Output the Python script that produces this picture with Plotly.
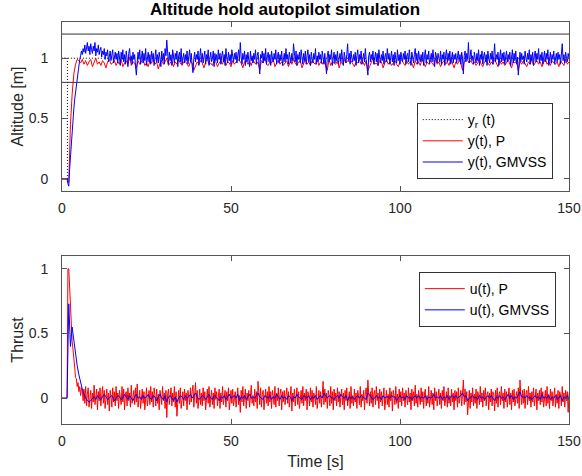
import plotly.graph_objects as go
from plotly.subplots import make_subplots

# ---------------- data ----------------
# reference step
yr_time = [1.6, 1.6, 0.0, 150.0]
yr_value = [0.0, 1.0, 1.0, 1.0]

# altitude bounds
alt_upper = 1.2
alt_lower = 0.8

# sample grids: first sample at t=0, then regular samples from t=1.5 s
t_first = 0.0
t_start = 1.5
step_fine = 0.25
step_coarse = 0.5

# altitude, P controller (0.5 s samples)
y_p = [0.00,
 0.00, -0.03, 0.45, 0.70, 0.87, 0.95, 0.99, 0.98, 0.96, 0.99,
 0.95, 0.98, 0.94, 0.97, 0.99, 0.93, 0.96, 1.00, 0.95, 0.97, 0.94, 0.98, 0.96, 0.92, 0.97, 0.99, 0.95, 0.96, 0.98, 0.94,
 0.97, 0.95, 0.99, 0.93, 0.96, 0.98, 0.95, 1.01, 0.94, 0.97, 0.96, 0.92, 0.98, 0.95, 0.97, 0.99, 0.94, 0.96, 0.93, 0.98,
 0.96, 0.99, 0.95, 0.97, 0.91, 0.96, 0.98, 0.95, 0.97, 1.00, 0.94, 0.96, 0.98, 0.93, 0.97, 0.95, 0.99, 0.96, 0.94, 0.97,
 0.98, 0.95, 0.93, 0.97, 0.96, 0.90, 0.94, 0.97, 0.95, 0.98, 0.96, 0.92, 0.97, 0.99, 0.95, 0.96, 0.94, 0.98, 0.97, 0.93,
 0.96, 0.98, 0.95, 1.00, 0.94, 0.97, 0.96, 0.93, 0.98, 0.95, 0.97, 0.99, 0.98, 0.96, 0.92, 0.97, 0.98, 0.95, 0.97, 0.94,
 0.99, 0.96, 0.95, 0.97, 0.90, 0.98, 0.96, 1.01, 0.95, 0.94, 0.97, 0.96, 0.99, 0.93, 0.96, 0.98, 0.95, 0.97, 0.94, 0.96,
 0.98, 0.93, 0.97, 0.95, 0.99, 0.96, 0.94, 0.97, 0.98, 0.92, 0.96, 0.99, 0.95, 0.97, 0.94, 0.98, 0.96, 0.95, 1.00, 0.94,
 0.97, 0.95, 0.98, 0.93, 0.90, 0.99, 0.94, 0.97, 0.96, 0.95, 0.98, 0.92, 0.97, 0.95, 0.99, 0.96, 0.98, 0.97, 0.98, 0.95,
 0.93, 0.97, 0.96, 0.99, 0.95, 0.97, 0.94, 0.98, 0.90, 0.93, 0.97, 1.00, 0.95, 0.96, 0.94, 0.98, 0.97, 0.92, 0.96, 0.99,
 0.95, 0.97, 0.94, 0.96, 0.98, 0.95, 0.93, 0.97, 0.99, 0.96, 0.94, 0.98, 0.95, 0.97, 0.96, 0.92, 0.98, 0.95, 0.97, 0.94,
 0.99, 0.96, 0.93, 0.97, 0.95, 0.98, 0.96, 0.94, 1.00, 0.95, 0.97, 0.93, 0.96, 0.98, 0.95, 0.97, 0.94, 0.99, 0.96, 0.92,
 0.97, 0.95, 0.98, 0.96, 0.90, 0.97, 0.99, 0.98, 0.96, 0.98, 0.95, 0.97, 0.94, 0.96, 1.00, 0.95, 0.93, 0.97, 0.98, 0.96,
 0.94, 0.97, 0.95, 0.99, 0.96, 0.93, 0.98, 0.95, 0.97, 0.94, 0.96, 0.99, 0.95, 0.92, 0.97, 0.96, 0.98, 0.90, 0.97, 0.95,
 0.98, 0.96, 0.93, 0.97, 0.95, 0.99, 0.94, 0.96, 0.98, 0.95, 0.97, 0.93, 0.96, 1.00, 0.95, 0.97, 0.94, 0.98, 0.96, 0.95,
 0.97, 0.93, 0.98, 0.96, 0.94, 0.99, 0.95, 0.97, 0.96, 0.94]

# altitude, GMVSS controller (0.25 s samples)
y_gmvss = [0.00,
 0.00, -0.04, -0.06, 0.08, 0.20, 0.30, 0.40, 0.50, 0.58, 0.66, 0.72, 0.79, 0.85, 0.90, 0.95, 0.99, 1.02, 1.06, 1.03, 1.08,
 1.05, 1.11, 1.04, 1.09, 1.13, 1.06, 1.10, 1.03, 1.12, 1.07, 1.04, 1.10, 1.06, 1.13, 1.02, 1.08, 1.05, 1.11, 1.03, 1.07,
 1.09, 1.01, 1.06, 1.03, 1.08, 0.99, 1.05, 1.02, 1.07, 0.97, 1.04, 1.06, 0.98, 1.03, 1.07, 0.96, 1.02, 1.05, 0.99, 1.04,
 0.96, 1.06, 1.01, 0.94, 1.05, 0.99, 1.07, 0.97, 1.03, 0.95, 1.06, 1.00, 0.93, 1.04, 1.08, 0.98, 1.02, 0.95, 1.05, 0.99,
 1.03, 0.93, 0.86, 0.97, 1.05, 0.99, 1.07, 0.95, 1.02, 1.06, 0.96, 1.04, 0.98, 1.08, 0.94, 1.01, 1.05, 0.97, 1.03, 0.95,
 1.06, 0.99, 1.04, 0.94, 1.02, 1.07, 0.97, 1.03, 0.96, 1.05, 1.00, 0.93, 1.06, 0.98, 1.04, 0.95, 1.08, 1.02, 1.15, 0.99,
 0.95, 1.05, 0.98, 1.03, 0.94, 1.07, 1.00, 0.96, 1.04, 0.99, 1.06, 0.93, 1.02, 1.05, 0.97, 1.08, 0.95, 1.01, 1.04, 0.96,
 1.03, 0.98, 1.06, 0.95, 1.02, 1.07, 0.97, 1.04, 0.94, 0.88, 1.00, 1.05, 0.97, 1.03, 0.99, 1.06, 0.94, 1.02, 1.08, 0.97,
 1.04, 0.96, 1.01, 1.06, 0.95, 1.03, 0.99, 1.07, 0.94, 1.02, 1.05, 0.97, 1.00, 1.06, 0.93, 1.04, 0.98, 1.03, 0.96, 1.07,
 0.99, 1.04, 0.95, 1.02, 1.06, 0.97, 1.03, 0.94, 1.08, 1.00, 0.96, 1.05, 0.98, 1.03, 0.95, 1.07, 1.01, 0.97, 1.04, 0.99,
 1.05, 0.96, 1.02, 1.07, 0.98, 1.13, 1.01, 0.95, 1.04, 0.99, 1.06, 0.94, 1.03, 0.97, 1.05, 1.00, 0.93, 1.06, 0.98, 1.02,
 0.96, 1.04, 0.99, 1.07, 0.95, 1.02, 1.05, 0.97, 0.87, 1.03, 1.00, 1.06, 0.96, 1.04, 0.98, 1.08, 0.95, 1.01, 1.05, 0.97,
 1.03, 0.94, 1.06, 1.00, 0.97, 1.04, 0.99, 1.07, 0.95, 1.02, 1.05, 0.96, 1.03, 0.98, 1.06, 0.94, 1.01, 1.04, 0.97, 1.08,
 0.99, 1.03, 0.95, 1.05, 1.00, 0.96, 1.04, 0.98, 1.12, 1.02, 0.97, 1.06, 0.94, 1.03, 0.99, 1.05, 0.96, 1.07, 1.01, 0.95,
 1.04, 0.98, 1.06, 0.95, 1.02, 1.07, 0.97, 1.03, 0.94, 1.05, 1.00, 0.96, 1.04, 0.99, 1.08, 0.95, 1.02, 0.97, 1.05, 0.99,
 1.03, 0.96, 1.06, 1.00, 0.95, 1.04, 0.98, 0.87, 1.02, 1.06, 0.97, 1.03, 0.99, 1.07, 0.94, 1.01, 1.05, 0.96, 1.03, 0.98,
 1.06, 0.95, 1.02, 1.04, 0.97, 1.07, 0.99, 0.94, 1.05, 1.01, 0.96, 1.03, 1.12, 0.98, 1.04, 0.95, 1.06, 1.00, 0.97, 1.03,
 0.98, 1.05, 0.94, 1.02, 1.07, 0.96, 1.03, 0.99, 1.06, 0.95, 1.01, 1.04, 0.97, 1.08, 0.99, 0.93, 0.86, 1.02, 1.05, 0.97,
 1.03, 0.99, 1.06, 0.95, 1.02, 1.05, 0.97, 1.04, 0.94, 1.07, 1.00, 0.96, 1.03, 0.98, 1.06, 0.95, 1.01, 1.04, 0.97, 1.08,
 0.99, 1.04, 0.95, 1.02, 1.06, 0.97, 1.03, 0.94, 1.05, 1.00, 0.96, 1.07, 0.98, 1.03, 0.95, 1.05, 1.01, 0.97, 1.04, 0.99,
 1.06, 0.95, 1.02, 1.04, 0.97, 1.07, 0.99, 0.94, 1.05, 1.01, 0.96, 1.03, 1.08, 0.98, 1.04, 0.95, 1.06, 1.00, 0.97, 1.03,
 0.98, 1.05, 0.94, 1.02, 1.07, 0.96, 1.03, 0.99, 1.06, 0.95, 1.01, 1.04, 0.97, 1.07, 0.99, 0.93, 1.05, 1.02, 0.96, 1.04,
 1.00, 0.97, 1.06, 0.95, 1.03, 0.99, 1.05, 0.94, 1.02, 1.07, 0.97, 1.04, 0.98, 1.06, 0.95, 1.01, 1.05, 0.96, 1.03, 0.99,
 1.04, 0.96, 1.02, 1.06, 0.98, 1.03, 0.95, 1.05, 1.00, 0.87, 1.02, 1.06, 0.97, 1.04, 0.99, 1.13, 0.96, 1.03, 1.07, 0.98,
 1.02, 0.95, 1.05, 1.00, 0.96, 1.04, 0.98, 1.07, 0.94, 1.03, 0.99, 1.06, 0.95, 1.02, 1.05, 0.97, 1.03, 0.94, 1.06, 1.00,
 0.96, 1.04, 0.99, 1.06, 0.95, 1.02, 1.12, 0.97, 1.03, 0.99, 1.05, 0.94, 1.02, 1.07, 0.97, 1.04, 0.98, 1.05, 0.95, 1.01,
 1.06, 0.97, 1.03, 0.99, 1.05, 0.94, 1.02, 1.07, 0.96, 1.04, 0.98, 1.06, 0.95, 1.01, 0.86, 1.03, 1.05, 0.97, 1.04, 0.99,
 1.02, 0.95, 1.06, 1.00, 0.97, 1.04, 0.99, 1.07, 0.95, 1.03, 0.98, 1.05, 0.94, 1.02, 1.06, 0.97, 1.04, 0.99, 1.08, 0.96,
 1.03, 0.98, 1.05, 0.95, 1.02, 1.06, 0.97, 1.04, 0.99, 1.07, 0.94, 1.02, 1.05, 0.96, 1.03, 0.99, 1.06, 0.95, 1.01, 1.04,
 0.97, 1.05, 0.99, 1.03, 0.95, 1.06, 1.12, 0.98, 1.03, 0.96, 1.05, 1.00, 0.97, 1.04, 0.99, 0.96, 1.03, 1.00, 0.97, 1.02]

# thrust, P controller (0.25 s samples)
u_p = [0.00,
 0.00, 1.00, 1.00, 0.86, 0.70, 0.60, 0.44, 0.38, 0.27, 0.24, 0.16, 0.15, 0.09, 0.12, 0.05, 0.09, 0.02, 0.08, 0.06, -0.02,
 0.07, -0.04, 0.09, -0.06, 0.03, 0.08, -0.07, 0.02, 0.06, -0.08, 0.04, -0.03, 0.10, -0.05, 0.01, 0.07, -0.09, 0.05, -0.02, 0.08,
 -0.06, 0.03, 0.09, -0.04, 0.06, -0.08, 0.02, 0.07, -0.05, 0.04, -0.10, 0.06, 0.01, -0.07, 0.08, -0.03, 0.05, -0.06, 0.09, -0.02,
 0.04, -0.08, 0.06, 0.02, -0.05, 0.09, -0.03, 0.07, -0.09, 0.03, 0.05, -0.06, 0.08, -0.02, 0.04, -0.07, 0.10, -0.04, 0.02, 0.06,
 -0.05, 0.08, -0.03, 0.11, -0.07, 0.04, 0.06, -0.08, 0.02, 0.07, -0.04, 0.05, -0.09, 0.03, 0.08, -0.06, 0.01, 0.06, -0.05, 0.09,
 -0.03, 0.05, -0.07, 0.08, 0.02, -0.06, 0.07, -0.04, 0.03, -0.09, 0.06, 0.01, -0.05, 0.09, -0.02, 0.04, -0.08, 0.06, -0.15, 0.03,
 0.07, -0.05, 0.02, 0.08, -0.06, 0.04, -0.03, 0.09, -0.07, 0.05, -0.14, 0.03, 0.06, -0.04, 0.08, -0.08, 0.02, 0.05, -0.06, 0.07,
 -0.02, 0.04, -0.09, 0.06, 0.01, -0.05, 0.08, -0.03, 0.05, 0.10, -0.07, 0.03, 0.12, -0.04, 0.06, -0.08, 0.02, 0.07, -0.05, 0.04,
 -0.06, 0.08, -0.02, 0.05, -0.09, 0.03, 0.07, -0.04, 0.09, -0.07, 0.02, 0.06, -0.05, 0.04, -0.08, 0.08, -0.01, 0.05, -0.06, 0.03,
 0.07, -0.08, 0.04, -0.03, 0.09, -0.05, 0.02, 0.06, -0.07, 0.05, -0.02, 0.08, -0.09, 0.03, 0.06, -0.04, 0.07, -0.06, 0.01, 0.05,
 -0.07, 0.04, 0.08, -0.05, 0.02, -0.11, 0.06, -0.03, 0.09, -0.06, 0.03, 0.07, -0.08, 0.04, -0.02, 0.06, -0.07, 0.05, 0.10, -0.04,
 0.02, -0.06, 0.07, -0.03, 0.05, -0.08, 0.13, 0.04, -0.05, 0.08, -0.07, 0.03, 0.06, -0.09, 0.02, 0.07, -0.04, 0.05, -0.06, 0.09,
 -0.03, 0.05, -0.08, 0.06, 0.02, -0.05, 0.09, -0.07, 0.04, -0.02, 0.08, -0.06, 0.03, 0.07, -0.09, 0.05, -0.03, 0.06, -0.05, 0.02,
 0.08, -0.04, 0.05, -0.07, 0.03, 0.09, -0.10, 0.04, -0.03, 0.07, -0.06, 0.02, 0.08, -0.05, 0.05, -0.08, 0.03, 0.06, -0.04, 0.09,
 -0.06, 0.04, -0.02, 0.07, -0.09, 0.05, 0.02, -0.06, 0.08, -0.03, 0.06, -0.07, 0.04, 0.01, -0.05, 0.09, -0.08, 0.03, 0.06, -0.04,
 0.05, -0.07, 0.03, 0.13, -0.05, 0.07, -0.03, 0.04, -0.08, 0.06, 0.02, -0.06, 0.09, -0.04, 0.05, -0.09, 0.07, -0.02, 0.04, -0.06,
 0.08, -0.03, 0.05, -0.07, 0.02, 0.07, -0.05, 0.04, -0.09, 0.06, -0.02, 0.08, -0.06, 0.03, 0.05, -0.08, 0.09, -0.04, 0.02, -0.06,
 0.07, -0.03, 0.04, -0.08, 0.06, 0.02, -0.05, 0.09, -0.07, 0.03, -0.02, 0.06, -0.09, 0.05, 0.08, -0.04, 0.14, 0.03, -0.06, 0.05,
 -0.04, 0.08, -0.07, 0.03, 0.06, -0.05, 0.09, -0.02, 0.04, -0.08, 0.07, -0.03, 0.05, -0.06, 0.02, 0.08, -0.09, 0.04, 0.06, -0.05,
 0.03, -0.07, 0.08, -0.02, 0.05, -0.10, 0.06, 0.02, -0.05, 0.09, -0.04, 0.03, -0.08, 0.07, -0.03, 0.05, -0.06, 0.08, -0.02, 0.04,
 -0.07, 0.06, 0.02, -0.05, 0.08, -0.03, 0.04, -0.09, 0.07, -0.02, 0.05, -0.06, 0.10, -0.04, 0.03, -0.07, 0.06, 0.01, -0.05, 0.08,
 -0.03, 0.05, -0.08, 0.04, 0.07, -0.06, 0.02, -0.04, 0.09, -0.07, 0.03, 0.06, -0.05, 0.04, -0.09, 0.08, -0.02, 0.05, -0.06, 0.03,
 0.07, -0.05, 0.04, -0.08, 0.06, -0.02, 0.09, -0.06, 0.03, 0.05, -0.07, 0.08, -0.04, 0.02, -0.06, 0.07, -0.03, 0.04, -0.09, 0.06,
 -0.02, 0.05, -0.07, 0.08, -0.04, 0.03, 0.06, -0.06, 0.04, 0.14, -0.05, 0.07, -0.03, 0.05, -0.13, 0.02, 0.06, -0.08, 0.04, -0.03,
 0.08, -0.06, 0.03, -0.04, 0.07, -0.08, 0.05, 0.02, -0.05, 0.09, -0.03, 0.04, -0.07, 0.06, -0.02, 0.08, -0.06, 0.03, 0.05, -0.09,
 0.04, -0.03, 0.07, -0.06, 0.05, 0.02, -0.10, 0.06, -0.04, 0.08, -0.07, 0.03, 0.05, -0.05, 0.09, -0.02, 0.04, -0.08, 0.07, -0.03,
 0.05, -0.07, 0.02, 0.08, -0.05, 0.04, -0.09, 0.06, -0.03, 0.07, -0.06, 0.03, 0.05, -0.04, 0.08, -0.08, 0.14, 0.02, -0.05, 0.06,
 -0.04, 0.07, -0.08, 0.03, 0.06, -0.05, 0.09, -0.02, 0.04, -0.07, 0.05, -0.03, 0.08, -0.06, 0.02, 0.07, -0.09, 0.04, -0.02, 0.06,
 -0.05, 0.08, -0.03, 0.05, -0.07, 0.02, 0.06, -0.06, 0.09, -0.04, 0.03, -0.08, 0.07, -0.02, 0.05, -0.06, 0.04, 0.08, -0.07, 0.03,
 -0.04, 0.06, -0.08, 0.05, 0.02, -0.06, 0.09, -0.03, 0.04, -0.07, 0.06, -0.02, 0.05, -0.11, 0.03, 0.07, -0.05, 0.04, -0.06, 0.02]

# thrust, GMVSS controller (0.5 s samples)
u_gmvss = [0.00,
 0.00, 0.73, 0.40, 0.55, 0.45, 0.33, 0.25, 0.18, 0.12, 0.07,
 0.03, 0.00, -0.02, -0.03, -0.02, 0.00, 0.01, -0.01, 0.02, 0.00, -0.01, 0.01, 0.03, 0.01, -0.01, 0.00, 0.02, 0.01, -0.02, 0.00,
 0.02, 0.01, -0.01, 0.00, 0.03, 0.01, -0.01, 0.02, 0.00, -0.02, 0.01, 0.03, 0.00, 0.01, -0.01, 0.02, 0.00, 0.01, 0.03, 0.00,
 -0.01, 0.02, 0.01, -0.02, 0.01, 0.03, 0.00, -0.01, 0.02, -0.03, 0.01, 0.02, 0.00, -0.02, 0.01, -0.03, 0.00, 0.02, 0.01, -0.01,
 0.02, 0.00, 0.01, 0.03, 0.00, 0.02, 0.04, 0.01, -0.01, 0.00, 0.02, 0.01, -0.01, 0.01, 0.03, 0.00, -0.01, 0.02, 0.01, 0.00,
 -0.02, 0.01, 0.00, 0.02, -0.01, 0.01, 0.03, 0.00, 0.01, 0.02, 0.00, 0.03, -0.02, 0.01, 0.00, 0.02, -0.01, 0.01, 0.03, 0.00,
 0.01, 0.00, 0.02, 0.04, 0.01, 0.00, -0.01, 0.02, 0.01, 0.00, 0.02, -0.01, 0.01, 0.00, 0.03, 0.01, -0.01, 0.02, 0.00, 0.01,
 -0.01, 0.02, 0.01, -0.02, 0.01, 0.00, 0.03, 0.01, 0.00, -0.01, 0.02, 0.01, 0.00, 0.02, -0.01, 0.01, 0.00, 0.02, -0.01, 0.01,
 0.02, 0.00, 0.04, 0.02, 0.00, 0.02, 0.01, 0.00, -0.01, 0.01, 0.02, 0.00, 0.03, 0.01, 0.00, 0.02, -0.02, 0.01, 0.00, 0.01,
 -0.01, 0.01, 0.02, 0.00, 0.02, 0.01, 0.00, -0.01, 0.04, 0.02, 0.01, -0.01, 0.00, 0.02, 0.00, 0.01, -0.01, 0.02, 0.00, 0.01,
 0.01, 0.00, 0.02, 0.01, 0.01, -0.02, 0.00, 0.02, 0.00, 0.01, -0.01, 0.02, 0.00, 0.01, -0.01, 0.01, 0.02, 0.00, 0.02, 0.00,
 0.01, 0.00, 0.02, -0.01, 0.01, 0.00, 0.01, 0.03, 0.00, 0.01, 0.00, 0.02, -0.01, 0.01, 0.00, 0.02, -0.01, 0.01, 0.02, 0.00,
 0.02, 0.00, 0.01, 0.02, 0.04, 0.01, 0.02, -0.02, 0.00, 0.01, 0.02, 0.00, 0.01, -0.01, 0.02, 0.00, 0.01, -0.01, 0.01, 0.02,
 0.00, 0.02, 0.00, -0.02, 0.01, 0.00, 0.02, 0.00, 0.01, -0.01, 0.01, 0.03, 0.00, 0.02, -0.01, 0.01, 0.00, 0.02, 0.05, 0.01,
 0.01, 0.00, 0.02, 0.00, 0.01, -0.01, 0.01, 0.02, 0.00, 0.01, -0.01, 0.03, 0.00, 0.01, 0.00, 0.02, -0.01, 0.01, 0.00, 0.02,
 -0.01, 0.01, 0.02, -0.02, 0.01, 0.00, 0.02, -0.01, 0.01, 0.00]

x_ticks = [0, 50, 100, 150]
y_ticks = [0, 0.5, 1]
y_tick_text = ["0", "0.5", "1"]


def time_for(values, step):
    return [t_first] + [t_start + step * k for k in range(len(values) - 1)]


# ---------------- figure ----------------
FONT = "Liberation Sans, Arial, Helvetica, sans-serif"
AX = "#262626"
AXLINE = "#555555"

fig = make_subplots(rows=2, cols=1)

fig.add_trace(go.Scatter(x=yr_time, y=yr_value, mode="lines",
                         line=dict(color="black", width=1, dash="1px,2px"),
                         name="y<sub>r</sub> (t)", legend="legend"), row=1, col=1)
fig.add_trace(go.Scatter(x=time_for(y_p, step_coarse), y=y_p, mode="lines",
                         line=dict(color="#ff0000", width=1),
                         name="y(t), P", legend="legend"), row=1, col=1)
fig.add_trace(go.Scatter(x=time_for(y_gmvss, step_fine), y=y_gmvss, mode="lines",
                         line=dict(color="#0000ff", width=1),
                         name="y(t), GMVSS", legend="legend"), row=1, col=1)

fig.add_trace(go.Scatter(x=time_for(u_p, step_fine), y=u_p, mode="lines",
                         line=dict(color="#ff0000", width=1),
                         name="u(t), P", legend="legend2"), row=2, col=1)
fig.add_trace(go.Scatter(x=time_for(u_gmvss, step_coarse), y=u_gmvss, mode="lines",
                         line=dict(color="#0000ff", width=1),
                         name="u(t), GMVSS", legend="legend2"), row=2, col=1)

for level in (alt_upper, alt_lower):
    fig.add_shape(type="line", xref="x", yref="y", x0=0, x1=150, y0=level, y1=level,
                  line=dict(color="#333333", width=1))

axis_common = dict(showline=True, linecolor=AXLINE, linewidth=1, mirror="ticks",
                   ticks="inside", ticklen=5, tickcolor=AXLINE, showgrid=False,
                   zeroline=False, automargin=False,
                   tickfont=dict(family=FONT, size=14, color=AX))

fig.update_xaxes(range=[0, 150], tickvals=x_ticks, ticklabelstandoff=4, **axis_common)
fig.update_yaxes(tickvals=y_ticks, ticktext=y_tick_text, ticklabelstandoff=10, **axis_common)

fig.update_layout(
    width=582, height=476,
    margin=dict(l=62, r=13, t=22, b=52, autoexpand=False),
    paper_bgcolor="white", plot_bgcolor="white",
    font=dict(family=FONT, size=14, color=AX),
    hovermode=False,
    xaxis=dict(domain=[0, 1]),
    yaxis=dict(domain=[0.5796, 1.0], range=[-0.1, 1.3],
               title=dict(text="Altitude [m]", font=dict(size=16, color=AX), standoff=1)),
    xaxis2=dict(domain=[0, 1],
                title=dict(text="Time [s]", font=dict(size=16, color=AX), standoff=8)),
    yaxis2=dict(domain=[0.0, 0.418], range=[-0.2, 1.1],
                title=dict(text="Thrust", font=dict(size=16, color=AX), standoff=1)),
    title=dict(text="<b>Altitude hold autopilot simulation</b>",
               font=dict(family=FONT, size=17, color="black"),
               xref="paper", x=0.44, xanchor="center",
               yref="container", y=1 - 9 / 476, yanchor="middle", automargin=False),
    showlegend=True,
    legend=dict(x=0.968, xanchor="right", y=0.7985, yanchor="top",
                bgcolor="white", bordercolor="#333333", borderwidth=1,
                font=dict(family=FONT, size=14, color="black"),
                tracegroupgap=0, itemwidth=40),
    legend2=dict(x=0.974, xanchor="right", y=0.378, yanchor="top",
                 bgcolor="white", bordercolor="#333333", borderwidth=1,
                 font=dict(family=FONT, size=14, color="black"),
                 tracegroupgap=0, itemwidth=40),
)

fig.write_html("out.html",
               config={"displayModeBar": False, "staticPlot": True},
               post_script="document.body.style.margin='0px';document.body.style.overflow='hidden';")
